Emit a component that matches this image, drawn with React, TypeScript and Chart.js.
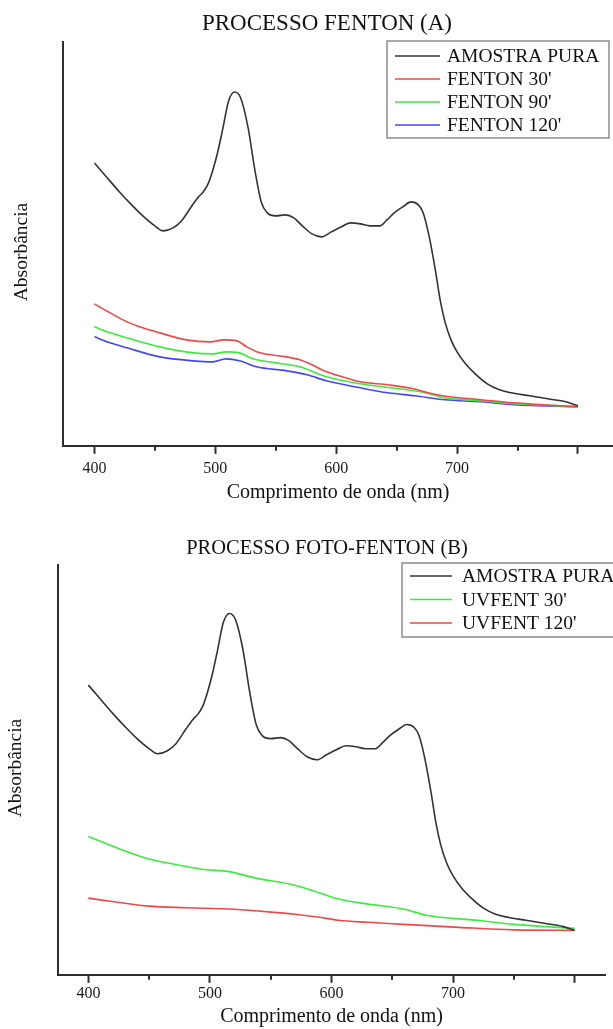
import React, { useEffect, useRef } from 'react';
import { Chart, registerables } from 'chart.js';

Chart.register(...registerables);

const FONT = "'Liberation Serif', 'Times New Roman', serif";

// ---------- Data (absorbance, arbitrary units) ----------
const WL_PURE = [400, 410, 420, 430, 440, 450, 457, 465, 472, 480, 486, 490, 494, 498, 502, 506, 511, 516, 521, 527, 533, 538, 543, 550, 558, 565, 572, 580, 588, 596, 604, 612, 620, 628, 636, 642, 648, 655, 662, 668, 672, 677, 682, 686, 690, 695, 700, 707, 715, 725, 735, 745, 760, 775, 790, 800];
const ABS_PURE = [2.83, 2.69, 2.55, 2.42, 2.30, 2.20, 2.15, 2.18, 2.25, 2.39, 2.49, 2.54, 2.62, 2.76, 2.94, 3.16, 3.45, 3.54, 3.48, 3.19, 2.74, 2.44, 2.33, 2.30, 2.31, 2.28, 2.20, 2.12, 2.09, 2.14, 2.19, 2.23, 2.22, 2.20, 2.20, 2.26, 2.33, 2.39, 2.44, 2.41, 2.33, 2.09, 1.76, 1.46, 1.24, 1.06, 0.94, 0.82, 0.72, 0.62, 0.56, 0.53, 0.50, 0.47, 0.44, 0.40];

const WL_F30 = [400, 413, 427, 440, 454, 476, 496, 507, 518, 526, 537, 559, 570, 580, 592, 605, 620, 643, 664, 676, 688, 720, 747, 800];
const ABS_F30 = [1.42, 1.33, 1.24, 1.18, 1.13, 1.06, 1.04, 1.06, 1.05, 0.99, 0.93, 0.89, 0.86, 0.81, 0.74, 0.69, 0.64, 0.61, 0.57, 0.53, 0.50, 0.46, 0.43, 0.39];

const WL_F90 = [400, 413, 427, 454, 482, 498, 509, 520, 531, 550, 570, 592, 620, 645, 670, 690, 720, 750, 800];
const ABS_F90 = [1.19, 1.13, 1.08, 0.99, 0.93, 0.92, 0.94, 0.93, 0.87, 0.83, 0.79, 0.69, 0.62, 0.58, 0.54, 0.48, 0.45, 0.42, 0.39];

const WL_F120 = [400, 413, 427, 454, 482, 498, 509, 520, 534, 559, 576, 592, 620, 643, 665, 690, 720, 747, 800];
const ABS_F120 = [1.09, 1.03, 0.98, 0.89, 0.85, 0.84, 0.87, 0.85, 0.79, 0.75, 0.71, 0.65, 0.58, 0.53, 0.50, 0.46, 0.44, 0.41, 0.39];

const WL_UV30 = [400, 425, 449, 473, 497, 510, 517, 537, 569, 593, 606, 630, 660, 678, 720, 750, 800];
const ABS_UV30 = [1.33, 1.21, 1.11, 1.05, 1.00, 0.99, 0.98, 0.92, 0.85, 0.76, 0.71, 0.66, 0.61, 0.55, 0.50, 0.46, 0.42];

const WL_UV120 = [400, 450, 480, 510, 520, 552, 570, 590, 606, 630, 660, 705, 750, 800];
const ABS_UV120 = [0.72, 0.64, 0.625, 0.615, 0.61, 0.58, 0.56, 0.53, 0.50, 0.48, 0.46, 0.43, 0.405, 0.40];

const MAJOR_TICKS = [400, 500, 600, 700, 800];
const TICK_LABELS = ['400', '500', '600', '700', ''];
const MINOR_TICKS = [450, 550, 650, 750];

const X_TITLE = 'Comprimento de onda (nm)';
const Y_TITLE = 'Absorbância';

const C_BLACK = '#333333';
const C_RED = '#f04848';
const C_GREEN = '#3cec3c';
const C_BLUE = '#4646f0';
const AXIS = '#2e2e2e';

function pts(wl: number[], ab: number[]) {
  return wl.map((x, i) => ({ x, y: ab[i] }));
}

function ds(label: string, wl: number[], ab: number[], color: string) {
  return {
    label,
    data: pts(wl, ab),
    borderColor: color,
    backgroundColor: color,
    borderWidth: 1.6,
    pointRadius: 0,
    fill: false,
    cubicInterpolationMode: 'monotone' as const,
  };
}

type Deco = {
  title: string;
  titleSize: number;
  titleX: number;
  titleY: number;
  yTitleX: number;
  yTitleY: number;
  box: { x: number; y: number; w: number; h: number };
  row0: number;
  rowGap: number;
  lineX0: number;
  lineX1: number;
  textX: number;
};

function decoPlugin(d: Deco) {
  return {
    id: 'deco',
    afterDraw(chart: any) {
      const ctx = chart.ctx;
      const xs = chart.scales.x;
      const bottom = chart.chartArea.bottom;
      ctx.save();
      // minor ticks
      ctx.strokeStyle = AXIS;
      ctx.lineWidth = 2;
      MINOR_TICKS.forEach((v) => {
        const px = Math.round(xs.getPixelForValue(v));
        ctx.beginPath();
        ctx.moveTo(px, bottom);
        ctx.lineTo(px, bottom + 5);
        ctx.stroke();
      });
      // chart title
      ctx.fillStyle = '#111';
      ctx.font = `${d.titleSize}px ${FONT}`;
      ctx.textAlign = 'center';
      ctx.textBaseline = 'middle';
      ctx.fillText(d.title, d.titleX, d.titleY);
      // y-axis title
      ctx.save();
      ctx.translate(d.yTitleX, d.yTitleY);
      ctx.rotate(-Math.PI / 2);
      ctx.font = `19.5px ${FONT}`;
      ctx.fillText(Y_TITLE, 0, 0);
      ctx.restore();
      // legend box
      ctx.fillStyle = '#fff';
      ctx.fillRect(d.box.x, d.box.y, d.box.w, d.box.h);
      ctx.strokeStyle = '#8c8c8c';
      ctx.lineWidth = 1.5;
      ctx.strokeRect(d.box.x, d.box.y, d.box.w, d.box.h);
      ctx.font = `19.5px ${FONT}`;
      ctx.textAlign = 'left';
      ctx.textBaseline = 'middle';
      chart.data.datasets.forEach((s: any, i: number) => {
        const y = d.row0 + i * d.rowGap;
        ctx.strokeStyle = s.borderColor;
        ctx.lineWidth = 1.6;
        ctx.beginPath();
        ctx.moveTo(d.lineX0, y - 1);
        ctx.lineTo(d.lineX1, y - 1);
        ctx.stroke();
        ctx.fillStyle = '#111';
        ctx.fillText(s.label, d.textX, y);
      });
      ctx.restore();
    },
  };
}

function buildConfig(
  datasets: any[],
  xMin: number,
  xMax: number,
  yMin: number,
  yMax: number,
  padding: { left: number; right: number; top: number; bottom: number },
  tickPad: number,
  titlePadTop: number,
  deco: Deco
) {
  return {
    type: 'line' as const,
    data: { datasets },
    plugins: [decoPlugin(deco)],
    options: {
      responsive: false,
      animation: false as const,
      layout: { padding },
      plugins: {
        legend: { display: false },
        title: { display: false },
        tooltip: { enabled: false },
      },
      scales: {
        x: {
          type: 'linear' as const,
          min: xMin,
          max: xMax,
          afterBuildTicks: (s: any) => {
            s.ticks = MAJOR_TICKS.map((v) => ({ value: v }));
          },
          ticks: {
            autoSkip: false,
            maxRotation: 0,
            padding: tickPad,
            color: '#1a1a1a',
            font: { family: FONT, size: 16 },
            callback: (v: any) => {
              const i = MAJOR_TICKS.indexOf(Number(v));
              return i >= 0 ? TICK_LABELS[i] : '';
            },
          },
          grid: {
            display: true,
            drawOnChartArea: false,
            drawTicks: true,
            tickLength: 8,
            tickWidth: 2,
            tickColor: AXIS,
          },
          border: { display: true, color: AXIS, width: 2 },
          title: {
            display: true,
            text: X_TITLE,
            color: '#111',
            font: { family: FONT, size: 20, lineHeight: 1 },
            padding: { top: titlePadTop, bottom: 0 },
          },
        },
        y: {
          type: 'linear' as const,
          min: yMin,
          max: yMax,
          afterFit: (s: any) => {
            s.width = 58;
          },
          ticks: { display: false },
          grid: { display: false },
          border: { display: true, color: AXIS, width: 2 },
          title: { display: false },
        },
      },
    },
  };
}

function buildA() {
  return buildConfig(
    [
      ds('AMOSTRA PURA', WL_PURE, ABS_PURE, C_BLACK),
      ds("FENTON 30'", WL_F30, ABS_F30, C_RED),
      ds("FENTON 90'", WL_F90, ABS_F90, C_GREEN),
      ds("FENTON 120'", WL_F120, ABS_F120, C_BLUE),
    ],
    374,
    829,
    0,
    4.04,
    { left: 5, right: 0, top: 42, bottom: 17 },
    5,
    0,
    {
      title: 'PROCESSO FENTON (A)',
      titleSize: 23,
      titleX: 327,
      titleY: 24,
      yTitleX: 22,
      yTitleY: 252,
      box: { x: 387, y: 41, w: 222, h: 97 },
      row0: 57,
      rowGap: 23,
      lineX0: 395,
      lineX1: 440,
      textX: 447,
    }
  );
}

function buildB() {
  return buildConfig(
    [
      ds('AMOSTRA PURA', WL_PURE, ABS_PURE, C_BLACK),
      ds("UVFENT 30'", WL_UV30, ABS_UV30, C_GREEN),
      ds("UVFENT 120'", WL_UV120, ABS_UV120, C_RED),
    ],
    375,
    825,
    -0.04,
    4.02,
    { left: 0, right: 8, top: 45, bottom: 2 },
    1,
    3,
    {
      title: 'PROCESSO FOTO-FENTON (B)',
      titleSize: 20.5,
      titleX: 327,
      titleY: 29,
      yTitleX: 16,
      yTitleY: 248,
      box: { x: 402, y: 43, w: 240, h: 74 },
      row0: 57,
      rowGap: 23.5,
      lineX0: 410,
      lineX1: 452,
      textX: 462,
    }
  );
}

function Panel({ top, height, build }: { top: number; height: number; build: () => any }) {
  const ref = useRef<HTMLCanvasElement | null>(null);
  useEffect(() => {
    if (!ref.current) return;
    const chart = new Chart(ref.current, build());
    return () => chart.destroy();
  }, []);
  return (
    <canvas
      ref={ref}
      width={613}
      height={height}
      style={{ position: 'absolute', left: 0, top, width: 613, height }}
    />
  );
}

export default function App() {
  return (
    <div
      style={{
        position: 'absolute',
        left: 0,
        top: 0,
        width: 613,
        height: 1029,
        background: '#fff',
        overflow: 'hidden',
      }}
    >
      <Panel top={0} height={520} build={buildA} />
      <Panel top={520} height={509} build={buildB} />
    </div>
  );
}
